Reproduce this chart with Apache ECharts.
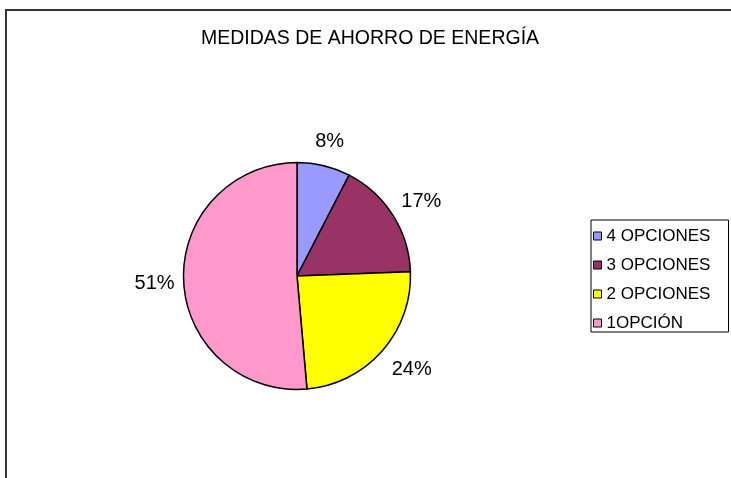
<!DOCTYPE html>
<html>
<head>
<meta charset="utf-8">
<script src="https://cdn.jsdelivr.net/npm/echarts@6/dist/echarts.min.js"></script>
<style>
  html, body { margin: 0; padding: 0; background: #fff; }
  #chart { width: 731px; height: 478px; }
</style>
</head>
<body>
<div id="chart"></div>
<script>
// chart data
const categories = ['4 OPCIONES', '3 OPCIONES', '2 OPCIONES', '1OPCIÓN'];
const shares = [7.6, 16.8, 24.2, 51.4];
const sliceColors = ['#9999FF', '#993366', '#FFFF00', '#FF99CC'];

const chart = echarts.init(document.getElementById('chart'));
const font = 'Liberation Sans, Arial, sans-serif';

// nudge the percent labels out along each slice like the spreadsheet does
const labelNudge = [[-16, -15], [-5, -8], [-3, 12], [6, 2]];

const option = {
  animation: false,
  color: sliceColors,
  title: {
    text: 'MEDIDAS DE AHORRO DE ENERGÍA',
    left: 201,
    top: 29,
    padding: 0,
    textStyle: { fontFamily: font, fontSize: 19.5, fontWeight: 'normal', color: '#000' }
  },
  legend: {
    orient: 'vertical',
    left: 591,
    top: 220,
    padding: [7, 4, 0, 2],
    borderColor: '#000',
    borderWidth: 1,
    itemWidth: 8,
    itemHeight: 8,
    itemGap: 11,
    icon: 'rect',
    itemStyle: { borderColor: '#000', borderWidth: 1 },
    textStyle: { fontFamily: font, fontSize: 17, color: '#000', lineHeight: 18, width: 118 },
    data: categories
  },
  graphic: [{
    type: 'rect',
    shape: { x: 6, y: 10, width: 900, height: 700 },
    style: { fill: 'none', stroke: '#333', lineWidth: 2 },
    silent: true
  }],
  series: [{
    type: 'pie',
    center: [297, 276],
    radius: 113.5,
    startAngle: 90,
    clockwise: true,
    avoidLabelOverlap: false,
    itemStyle: { borderColor: '#000', borderWidth: 1.5 },
    label: {
      show: true,
      position: 'outside',
      fontFamily: font,
      fontSize: 20,
      color: '#000',
      formatter: p => Math.round(p.percent) + '%'
    },
    labelLine: { show: false, length: 10, length2: 0 },
    labelLayout: p => ({ dx: labelNudge[p.dataIndex][0], dy: labelNudge[p.dataIndex][1] }),
    emphasis: { disabled: true },
    data: categories.map((name, i) => ({ name, value: shares[i] }))
  }]
};

chart.setOption(option);
</script>
</body>
</html>
